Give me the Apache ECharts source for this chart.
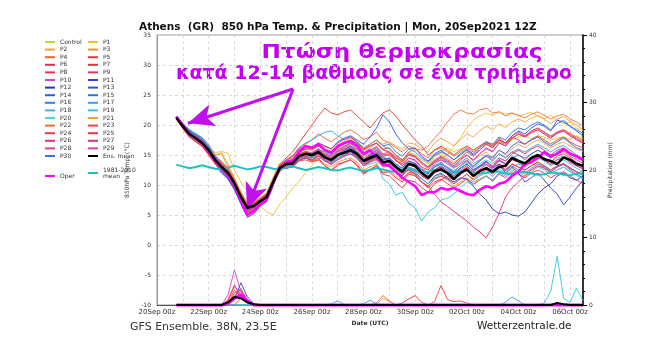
<!DOCTYPE html>
<html><head><meta charset="utf-8">
<script src="https://cdn.jsdelivr.net/npm/echarts@6/dist/echarts.min.js"></script>
<style>html,body{margin:0;padding:0;background:#fff}#c{width:660px;height:359px}</style>
</head><body><div id="c"></div><script>
// time steps: hours after 20Sep 00z (first step 20Sep 18z, 6-hourly)
const FIRST_HOUR = 18, STEP = 6;
const X_TICK_LABELS = ["20Sep 00z","22Sep 00z","24Sep 00z","26Sep 00z","28Sep 00z","30Sep 00z","02Oct 00z","04Oct 00z","06Oct 00z"];
const Y_TICKS_TEMP = [-10,-5,0,5,10,15,20,25,30,35];
const Y_TICKS_PREC = [0,10,20,30,40];

// 850 hPa temperature (°C)
const T_CONTROL=[21.3,19.6,18.6,17.5,16.8,15.5,14.0,13.3,12.2,10.0,8.2,6.5,6.8,7.5,8.5,11.0,13.2, 13.8,14.2,15.5,15.8,15.2, 16.0,15.0,14.5,15.5,16.2,16.8,16.0,15.0,15.8,16.4, 15.2,15.0,14.2,13.6,15.0,14.6,13.8,13.0,14.8,15.5, 16.2,15.5,16.0,16.4,15.8,16.5,17.0,16.8,17.2,16.5, 17.5,18.0,18.3,17.6,18.2,18.0,17.5,17.8,18.0,17.6, 18.2,17.8];
const T_P1=[21.2,19.9,18.8,18.0,17.4,16.3,15.4,15.6,15.3,12.5,10.5,9.0,8.0,6.5,5.5,5.0,6.8, 8.0,9.5,10.6,12.0,13.2, 14.2,15.0,15.8,15.5,16.5,17.0,16.2,15.5,14.8,15.5, 14.6,13.8,13.2,14.0,13.5,12.8,12.0,13.2,13.8,14.5, 15.0,16.5,17.8,19.5,20.8,21.5,22.0,21.6,22.2,21.8, 22.0,21.5,21.8,22.1,21.5,21.0,21.6,20.8,20.2,20.5, 19.5,19.0];
const T_P2=[21.4,20.2,19.0,18.3,17.6,16.5,15.0,15.2,13.0,11.0,8.8,6.8,7.0,7.8,8.6,11.2,13.5, 14.0,14.5,15.8,16.2,16.0, 16.5,15.8,15.2,16.0,16.8,17.5,16.8,15.5,16.2,17.0, 16.0,15.5,14.8,14.0,15.5,15.0,14.2,13.5,14.8,15.2, 14.5,13.8,14.5,15.0,14.2,14.8,15.5,14.6,15.8,15.0, 16.0,16.8,16.2,17.0,17.5,17.0,16.2,16.8,17.2,16.5, 16.0,15.6];
const T_P3=[21.0,19.5,18.2,17.4,16.6,15.2,13.8,12.6,11.5,9.8,7.6,5.8,6.2,7.0,7.8,10.0,12.5, 13.0,13.2,14.0,14.5,14.0, 14.2,13.5,13.0,13.8,14.2,14.5,13.8,12.5,13.0,13.5, 12.2,12.5,11.5,10.8,12.0,11.5,10.5,9.8,11.0,11.5, 10.8,9.8,10.5,11.2,10.5,11.0,11.5,10.8,12.0,11.8, 12.8,12.2,11.8,12.5,13.2,12.8,12.0,12.5,13.0,12.2, 11.8,12.4];
const T_P4=[21.3,20.0,18.9,18.1,17.3,16.0,14.6,14.0,12.8,10.8,8.5,6.6,6.6,7.2,8.2,10.8,13.0, 14.2,14.8,16.2,16.8,17.5, 18.5,17.8,17.2,18.0,18.8,19.2,18.5,17.6,18.0,18.8, 17.5,17.0,16.2,15.5,16.5,16.0,15.2,14.5,15.8,16.2, 15.5,14.8,15.5,16.2,15.5,16.2,17.0,16.5,17.2,16.8, 17.8,18.5,18.0,19.0,19.5,18.8,18.2,18.8,19.2,18.6, 18.0,17.5];
const T_P5=[21.1,19.4,18.0,17.2,16.4,15.0,13.5,12.5,11.4,9.6,7.4,5.6,6.0,7.1,8.0,10.6,13.4, 14.5,15.5,17.0,18.5,20.0, 21.5,22.8,22.0,21.7,22.2,22.5,21.5,20.5,19.5,20.8, 22.0,22.5,21.5,20.0,18.8,17.5,16.5,15.0,15.8,16.5, 15.8,15.0,15.8,16.5,15.8,16.5,17.2,16.5,17.8,17.0, 18.0,17.5,16.8,17.6,18.2,17.5,16.8,17.5,18.0,17.2, 16.6,16.2];
const T_P6=[21.2,19.7,18.4,17.9,17.2,16.2,14.8,13.5,12.4,10.6,8.4,6.4,6.9,7.6,8.4,10.2,12.2, 13.2,13.0,14.2,14.6,14.0, 14.5,13.2,12.5,13.5,13.8,14.2,13.2,11.8,12.5,13.2, 11.8,11.5,10.5,9.5,10.8,10.5,9.6,8.8,10.2,10.8, 11.5,10.8,11.8,12.5,11.8,12.6,13.4,12.8,14.0,13.5, 14.5,14.0,13.2,14.0,14.8,14.2,13.5,14.2,14.6,13.8, 13.2,12.8];
const T_P7=[21.3,20.1,18.7,18.0,17.1,15.6,14.0,12.8,11.8,10.0,7.9,6.0,6.3,7.0,7.7,10.4,12.9, 14.0,14.2,15.0,15.5,15.2, 15.8,14.8,14.2,15.2,15.8,16.2,15.5,14.2,14.8,15.5, 14.2,14.5,13.2,12.5,13.8,13.2,12.0,11.2,12.5,13.0, 12.2,11.2,12.0,12.8,11.5,12.2,13.0,12.2,13.5,13.0, 14.2,13.8,13.0,14.2,15.0,14.5,13.8,14.8,15.2,14.5, 13.8,13.2];
const T_P8=[21.2,19.8,18.3,17.6,16.9,15.7,14.4,13.2,12.3,10.5,8.2,6.3,6.6,7.4,8.2,10.8,13.1, 13.5,13.8,15.2,15.5,15.0, 15.5,14.5,14.0,15.0,15.5,16.0,15.2,13.8,14.2,14.8, 13.5,13.2,12.0,11.0,12.2,11.8,10.5,9.5,10.5,11.0, 10.2,9.5,10.2,11.0,10.2,10.8,11.5,10.6,11.8,11.2, 12.2,11.8,11.2,12.0,12.5,12.0,11.2,11.8,12.2,11.5, 10.8,10.2];
const T_P9=[21.0,19.6,18.6,17.9,17.3,16.1,14.5,13.6,12.6,10.9,8.6,6.7,7.0,7.8,8.5,10.9,13.0, 13.8,14.0,15.0,15.4,15.2, 15.8,15.0,14.6,15.5,16.0,16.5,15.8,14.5,15.2,15.8, 14.8,15.0,14.0,13.5,14.5,14.2,13.0,12.5,13.8,14.2, 13.5,12.8,13.5,14.2,13.2,14.0,14.8,14.0,15.2,14.5, 15.5,15.0,14.2,15.2,15.8,15.2,14.5,15.2,15.6,14.8, 14.2,13.6];
const T_P10=[21.4,20.0,18.5,17.7,16.8,15.4,13.9,12.7,11.6,9.9,7.7,5.4,5.8,6.9,7.6,10.1,12.6, 13.2,13.5,14.8,15.2,15.0, 15.8,15.0,14.5,15.6,16.2,16.8,16.0,14.8,15.6,16.2, 15.0,15.2,14.2,13.2,14.5,14.0,12.8,12.0,13.5,14.2, 13.8,13.0,14.2,15.0,14.0,15.2,16.0,15.5,17.0,16.5, 17.8,18.5,18.0,18.8,19.2,18.5,17.8,18.6,19.0,18.2, 17.5,17.0];
const T_P11=[21.1,19.7,18.4,17.8,16.9,15.9,14.1,12.4,11.2,9.5,7.2,5.0,5.6,6.8,7.5,10.2,12.4, 13.0,13.2,14.5,15.0,14.8, 15.5,14.8,14.0,15.0,15.8,16.5,15.5,14.2,15.0,15.8, 14.5,14.2,13.0,12.2,13.5,13.0,12.0,11.0,12.5,13.2, 12.5,11.8,12.8,13.5,12.5,13.2,14.0,12.8,13.5,12.0, 13.0,12.0,10.5,11.2,12.0,10.8,9.5,8.5,6.7,8.0, 9.5,10.8];
const T_P12=[21.3,20.2,19.2,18.4,17.5,15.8,13.6,12.0,11.0,9.2,6.8,4.6,5.2,6.5,7.2,9.8,12.8, 12.8,13.0,14.2,14.5,14.2, 14.8,14.0,13.5,14.5,15.0,15.5,14.6,13.2,14.0,14.6, 13.2,13.5,12.2,11.5,12.8,12.2,11.0,10.2,11.5,12.0, 11.2,10.5,11.2,11.0,9.8,8.5,7.5,6.0,5.2,5.5, 5.0,4.8,5.5,7.0,8.5,9.5,10.2,11.5,12.0,11.2, 10.8,11.5];
const T_P13=[21.2,20.0,19.0,18.5,17.8,16.4,14.7,13.4,12.4,10.4,8.1,6.1,6.4,7.3,8.1,10.6,13.3, 13.8,14.2,15.5,16.0,16.2, 17.0,16.5,16.0,17.2,17.8,18.2,17.5,16.8,18.0,19.5, 21.7,20.5,18.5,17.0,16.0,16.2,14.8,14.0,15.2,15.8, 15.0,14.2,15.0,15.8,15.0,15.8,16.8,16.2,17.5,17.0, 18.2,19.0,18.5,19.5,20.2,19.8,19.0,20.8,20.5,19.8, 19.0,18.2];
const T_P14=[21.0,19.5,18.7,18.2,17.6,16.0,14.2,12.2,11.0,9.4,7.0,5.2,5.6,6.7,7.4,10.0,12.6, 12.8,13.2,14.5,14.8,14.5, 15.2,14.2,13.8,14.8,15.2,15.6,14.8,13.5,14.2,14.8, 13.8,14.0,13.0,12.2,13.5,13.2,12.5,11.8,13.0,13.5, 13.0,12.2,13.2,14.0,13.0,14.0,15.0,14.5,15.8,15.2, 16.5,17.2,16.8,17.5,18.0,17.2,16.5,17.2,17.8,17.0, 16.2,15.8];
const T_P15=[21.3,20.3,19.1,18.0,17.0,15.6,14.0,12.9,11.9,10.1,7.8,5.9,6.2,7.0,7.9,10.4,12.9, 13.5,13.8,15.0,15.5,15.2, 16.0,15.5,15.0,16.2,17.0,17.5,17.0,16.0,16.8,17.5, 16.5,16.8,15.5,14.8,16.0,15.5,14.5,13.8,15.0,15.5, 15.0,14.2,15.2,16.0,15.2,16.2,17.2,16.8,18.0,17.5, 18.8,19.5,19.2,20.0,20.5,20.0,19.2,20.2,20.8,19.8, 19.2,18.6];
const T_P16=[21.2,19.9,18.6,17.8,17.0,15.9,14.3,13.1,12.1,10.2,7.9,5.8,6.1,6.9,7.8,10.3,12.7, 13.2,13.5,14.6,15.0,14.8, 15.5,14.6,14.0,15.0,15.5,16.0,15.2,14.0,14.6,15.2, 14.2,14.5,13.5,12.8,14.0,13.6,12.6,11.8,13.2,13.8, 12.8,12.0,12.8,13.5,12.5,13.2,14.0,13.0,14.2,13.5, 14.5,15.0,14.5,15.2,15.8,15.2,14.5,15.5,16.0,15.2, 14.5,14.0];
const T_P17=[21.1,19.8,18.9,18.6,17.9,16.8,15.0,13.8,12.6,10.7,8.4,6.4,6.7,7.6,8.4,10.9,13.2, 14.0,14.8,16.2,17.0,17.5, 18.2,18.8,19.0,18.2,17.5,18.0,17.2,16.2,16.8,17.5, 16.5,16.0,15.0,14.2,15.2,14.8,13.8,13.0,14.0,14.5, 13.8,13.0,13.8,14.5,13.6,14.2,15.0,14.2,15.2,14.6, 15.5,16.0,15.5,16.2,16.8,16.2,15.5,16.2,16.6,15.8, 15.0,14.4];
const T_P18=[21.2,20.1,19.3,18.5,17.4,16.2,14.6,13.4,12.2,10.3,8.0,6.0,6.3,7.2,8.0,10.5,13.0, 13.0,13.5,14.8,15.5,15.2, 16.0,15.2,14.8,15.8,16.5,17.0,16.2,15.0,15.5,16.0, 14.8,14.2,12.8,11.8,12.5,12.0,11.0,10.2,11.2,11.8, 11.0,10.2,11.0,11.8,10.8,11.5,12.2,11.4,12.6,12.0, 13.0,13.5,13.0,13.8,14.5,14.0,13.2,13.8,14.2,13.5, 12.8,12.2];
const T_P19=[21.3,19.7,18.3,17.5,16.7,15.3,13.7,12.4,11.5,9.8,7.5,5.6,6.0,7.0,7.8,10.3,12.7, 13.5,13.2,14.5,15.0,14.8, 15.2,14.5,13.8,14.5,15.0,15.2,14.5,13.2,13.5,13.8, 11.0,10.2,8.3,8.8,7.0,6.2,4.0,5.5,6.2,7.5, 7.8,8.5,9.5,10.5,10.0,10.8,11.5,10.8,12.0,11.5, 12.5,12.0,11.5,12.2,13.0,12.5,11.8,12.5,13.0,12.2, 11.6,11.0];
const T_P20=[21.2,19.6,18.4,17.7,16.9,15.6,14.0,12.8,11.9,10.2,7.9,6.0,6.3,7.1,7.9,10.4,12.8, 13.6,13.8,14.6,15.0,14.6, 15.0,14.2,13.6,14.2,14.8,15.2,14.5,13.5,14.0,14.5, 13.8,14.0,13.2,12.6,13.8,13.5,12.5,12.0,13.2,13.6, 13.0,12.4,13.2,13.8,12.8,13.6,14.2,13.6,14.5,14.0, 14.8,14.2,13.8,14.5,15.0,14.5,13.8,14.5,14.8,14.2, 13.6,13.0];
const T_P21=[21.3,20.0,18.8,18.0,17.3,16.2,15.0,15.4,13.4,11.2,8.9,7.0,7.2,7.9,8.7,11.3,13.6, 14.0,14.6,15.8,16.2,16.0, 16.8,16.2,15.6,16.5,17.2,17.8,17.2,16.2,16.8,17.5, 16.8,17.2,16.5,16.0,17.0,16.8,16.0,15.5,17.0,17.8, 17.2,16.5,17.5,18.5,18.0,19.0,19.8,19.2,20.2,19.6, 20.5,21.0,20.5,21.2,21.6,21.0,20.2,21.0,21.4,20.6, 20.0,19.2];
const T_P22=[21.2,19.8,18.6,17.8,17.0,15.9,14.5,13.8,12.7,10.8,8.6,6.8,7.1,7.8,8.6,11.0,13.4, 13.6,14.0,15.0,15.5,15.0, 15.5,14.8,14.2,15.0,15.8,16.2,15.5,14.5,15.2,15.8, 14.8,15.2,14.5,14.0,15.5,16.0,15.8,16.5,17.8,19.0, 20.5,21.8,22.5,22.0,21.8,22.5,22.8,22.0,22.2,21.5, 22.0,21.6,21.2,21.8,22.2,21.6,21.0,21.5,21.8,21.0, 20.5,19.8];
const T_P23=[21.1,19.5,18.1,17.3,16.5,15.1,13.6,12.3,11.3,9.6,7.3,5.5,5.9,6.8,7.6,10.0,12.4, 13.2,13.5,14.5,14.8,14.5, 15.0,14.2,13.5,14.2,14.8,15.2,14.4,13.2,13.8,14.2, 13.0,13.2,12.2,11.6,12.8,12.5,11.5,10.8,12.0,12.5, 11.8,11.0,11.8,12.5,11.5,12.2,13.0,12.2,13.2,12.6, 13.5,13.0,12.5,13.2,13.8,13.2,12.5,13.2,13.6,12.8, 12.2,11.8];
const T_P24=[21.3,19.9,18.7,18.0,17.2,16.0,14.4,13.3,12.3,10.5,8.3,6.4,6.8,7.5,8.3,10.7,13.0, 13.8,14.2,15.5,16.0,15.8, 16.5,15.8,15.2,16.2,17.0,17.5,16.8,15.8,16.5,17.0, 16.0,16.2,15.0,14.2,15.2,14.8,13.8,13.0,14.2,14.8, 14.2,13.5,14.5,15.5,14.8,15.8,16.8,16.2,17.5,17.0, 18.2,18.8,18.2,19.0,19.5,18.8,18.0,18.8,19.2,18.4, 17.8,17.2];
const T_P25=[21.2,19.7,18.4,17.6,16.8,15.6,14.1,12.9,12.0,10.2,8.0,6.1,6.4,7.2,8.0,10.5,12.9, 12.8,13.0,14.0,14.2,13.8, 14.2,13.2,12.5,13.2,13.8,14.2,13.4,12.0,12.6,13.2, 12.0,12.2,11.2,10.5,11.8,11.5,10.5,9.8,11.0,11.5, 11.0,10.2,11.0,11.8,11.0,11.8,12.5,11.8,13.0,12.4, 13.5,13.0,12.5,13.2,13.8,13.2,12.5,13.2,13.5,12.8, 12.2,11.6];
const T_P26=[21.0,19.4,18.0,17.2,16.5,15.2,13.8,12.8,11.8,10.0,7.8,5.9,6.2,7.0,7.8,10.2,12.6, 13.5,13.8,15.0,15.2,14.8, 15.2,14.5,13.8,14.8,15.2,15.6,14.8,13.5,14.0,14.6, 13.5,13.8,12.8,12.0,12.5,11.8,10.5,9.8,8.5,7.2, 6.4,5.6,4.8,4.0,3.0,2.2,1.2,3.0,5.3,8.0, 9.5,10.5,11.5,12.5,13.2,12.8,12.2,13.0,13.5,12.8, 12.2,11.8];
const T_P27=[21.3,19.9,18.5,17.9,17.2,16.1,14.6,13.4,12.3,10.6,8.4,6.5,6.8,7.6,8.4,10.8,13.1, 14.2,14.8,16.0,16.5,16.2, 17.0,16.5,16.0,17.0,17.6,18.0,17.2,16.0,16.5,17.0, 15.8,15.5,14.2,13.2,14.0,13.5,12.2,11.5,12.5,13.0, 12.2,11.5,12.2,13.0,12.2,13.0,13.8,13.2,14.5,14.0, 15.2,15.8,15.2,16.0,16.5,15.8,15.0,15.8,16.2,15.4, 14.8,14.2];
const T_P28=[21.2,19.8,18.6,17.7,16.9,15.7,14.1,12.9,11.9,10.1,7.8,5.7,6.0,6.9,7.7,10.3,12.8, 14.0,14.2,15.2,15.6,15.4, 16.0,15.2,14.8,15.8,16.4,17.0,16.4,15.2,15.8,16.4, 15.2,15.5,14.6,13.8,15.0,14.6,13.5,12.8,14.0,14.6, 14.0,13.2,14.2,15.0,14.2,15.2,16.2,15.6,17.0,16.5, 17.8,18.5,18.0,18.7,19.2,18.5,17.8,18.7,19.0,18.2, 17.6,17.0];
const T_P29=[21.4,20.1,18.9,18.2,17.4,16.2,14.5,13.2,12.1,10.2,7.9,5.8,6.1,7.0,7.8,10.4,12.9, 13.0,13.2,14.2,14.6,14.2, 14.8,14.0,13.4,14.2,14.8,15.2,14.5,13.2,13.8,14.4, 13.2,13.5,12.5,11.8,13.0,12.6,11.6,11.0,12.2,12.8, 12.2,11.5,12.5,13.2,12.2,13.0,13.8,13.0,14.2,13.6, 14.6,14.0,13.4,14.2,14.8,14.2,13.4,14.2,14.6,13.8, 13.2,12.6];
const T_P30=[21.1,19.8,18.8,18.3,17.6,16.3,14.4,12.6,11.4,9.6,7.3,5.2,5.7,6.8,7.6,10.1,12.7, 13.4,13.6,14.8,15.2,15.0, 15.6,14.8,14.2,15.2,15.8,16.2,15.5,14.2,14.8,15.4, 14.2,14.5,13.5,12.8,14.0,13.6,12.5,11.8,13.0,13.5, 12.8,12.0,12.8,13.5,12.5,13.0,13.5,12.5,13.2,12.4, 13.2,12.5,12.0,12.8,13.5,13.0,12.2,13.0,13.4,12.5, 11.8,11.2];
const T_OPER=[21.4,20.0,18.6,17.8,16.9,15.6,14.0,12.8,11.7,9.9,7.4,5.0,5.6,6.8,7.6,10.3,12.8, 13.8,14.0,15.5,16.5,16.2, 16.8,15.8,15.4,16.5,17.0,17.3,16.5,15.2,15.8,14.5, 13.5,13.2,12.2,11.2,10.5,9.8,8.3,8.8,8.8,9.5, 9.2,9.5,9.0,8.5,8.3,9.2,9.8,9.5,10.2,10.5, 11.5,12.2,13.5,13.8,14.5,15.5,14.8,15.2,16.0,15.2, 14.8,14.2];
const T_MEAN=[21.2,19.8,18.5,17.8,17.0,15.8,14.2,13.0,12.0,10.3,8.0,6.2,6.5,7.3,8.0,10.5,12.8, 13.5,13.6,14.8,15.2,15.0, 15.5,14.6,14.2,15.0,15.4,15.8,15.2,14.0,14.5,15.0, 13.8,14.0,13.0,12.2,13.5,13.2,12.0,11.2,12.3,12.6, 12.0,11.0,12.0,12.6,11.5,12.3,12.8,12.2,13.0,13.2, 14.5,14.0,13.6,14.5,15.0,14.3,14.0,13.5,14.6,14.2, 13.5,13.2];
const T_CLIM=[13.4,13.1,12.8,13.0,13.3,13.0,12.7,12.6,12.9,13.2, 12.9,12.6,12.8,13.1,13.0,12.7,12.6,12.9,13.1,12.8, 12.5,12.7,13.0,12.8,12.5,12.4,12.7,12.9,12.6,12.3, 12.5,12.8,12.6,12.3,12.2,12.5,12.7,12.4,12.1,12.2, 12.5,12.4,12.1,12.0,12.3,12.4,12.1,11.9,12.0,12.3, 12.2,11.9,11.8,12.1,12.2,11.9,11.7,11.8,12.1,12.0, 11.7,11.6,11.9,11.9];

// 6-hourly precipitation (mm)
const PR_P10=[0,0,0,0,0,0,0,0, 1.5,5.2,2.0,0.4,0,0,0,0, 0,0,0,0,0,0,0,0, 0,0,0,0,0,0,0,0, 0,0,0,0,0,0,0,0, 0,0,0,0,0,0,0,0, 0,0,0,0,0,0,0,0, 0,0,0,0,0,0,0,0];
const PR_P11=[0,0,0,0,0,0,0,0, 0,0.8,3.3,1.2,0.2,0,0,0, 0,0,0,0,0,0,0,0, 0,0,0,0,0,0,0,0, 0,0,0,0,0,0,0,0, 0,0,0,0,0,0,0,0, 0,0,0,0,0,0,0,0, 0,0,0,0,0,0,0,0];
const PR_P5=[0,0,0,0,0,0,0,0, 0.6,2.8,1.5,0.3,0,0,0,0, 0,0,0,0,0,0,0,0, 0,0,0,0,0,0,0,0, 0,0,0,0,0,0,0,0, 0,0,0,0,0,0,0,0, 0,0,0,0,0,0,0,0, 0,0,0,0,0,0,0,0];
const PR_P6=[0,0,0,0,0,0,0,0, 0,1.8,2.2,0.8,0,0,0,0, 0,0,0,0,0,0,0,0, 0,0,0,0,0,0,0,0, 0,0,0,0,0,0,0,0, 0,0,0,0,0,0,0,0, 0,0,0,0,0,0,0,0, 0,0,0,0,0,0,0,0];
const PR_P24=[0,0,0,0,0,0,0,0, 0.3,2.2,1.2,0.5,0,0,0,0, 0,0,0,0,0,0,0,0, 0,0,0,0,0,0,0,0, 0,0,0,0,0,0,0,0, 0,0,0,0,0,0,0,0, 0,0,0,0,0,0,0,0, 0,0,0,0,0,0,0,0];
const PR_P23=[0,0,0,0,0,0,0,0, 0,1.0,1.6,0.4,0,0,0,0, 0,0,0,0,0,0,0,0, 0,0,0,0,0,0,0,0, 0,0,0,0,0,0,0,0, 0.5,2.9,0.8,0.5,0.6,0.3,0,0, 0,0,0,0,0,0,0,0, 0,0,0,0,0,0,0,0];
const PR_P28=[0,0,0,0,0,0,0,0, 0.8,3.0,1.0,0.3,0,0,0,0, 0,0,0,0,0,0,0,0, 0,0,0,0,0,0,0,0, 0,0,0,0,0,0,0,0, 0,0,0,0,0,0,0,0, 0,0,0,0,0,0,0,0, 0,0,0,0,0,0,0,0];
const PR_P29=[0,0,0,0,0,0,0,0, 0.2,1.4,2.0,0.6,0,0,0,0, 0,0,0,0,0,0,0,0, 0,0,0,0,0,0,0,0, 0,0,0,0,0,0,0,0, 0,0,0,0,0,0,0,0, 0,0,0,0,0,0,0,0, 0,0,0,0,0,0,0,0];
const PR_P4=[0,0,0,0,0,0,0,0, 0,1.2,2.5,0.5,0,0,0,0, 0,0,0,0,0,0,0,0, 0,0,0,0,0,0,0,0.3, 1.4,0.6,0,0,0,0,0,0, 0,0,0,0,0,0,0,0, 0,0,0,0,0,0,0,0, 0,0,0,0,0,0,0,0];
const PR_P7=[0,0,0,0,0,0,0,0, 0,0,1.0,0.3,0,0,0,0, 0,0,0,0,0,0,0,0, 0,0,0,0,0,0,0,0, 0,0,0,0.3,0.9,1.4,0.4,0, 0,0,0,0,0,0,0,0, 0,0,0,0,0,0,0,0, 0,0,0,0,0,0,0,0];
const PR_P19=[0,0,0,0,0,0,0,0, 0,0,0,0,0,0,0,0, 0,0,0,0,0,0,0,0, 0,0,0,0,0,0,0,0, 0,0,0,0,0,0,0,0, 0,0,0,0,0,0,0,0, 0,0,0,0,0,0,0,0, 0,0.3,2.0,7.2,1.0,0.4,2.5,0.6];
const PR_P17=[0,0,0,0,0,0,0,0, 0,0,0,0,0,0,0,0, 0,0,0,0,0,0,0,0, 0.2,0.6,0.1,0,0,0.2,0.7,0.2, 0,0,0,0,0,0,0,0, 0,0,0,0,0,0,0,0, 0,0,0,0.4,1.2,0.6,0,0, 0,0,0,0,0,0,0,0];
const PR_P2=[0,0,0,0,0,0,0,0, 0,0,0,0,0,0,0,0, 0,0,0,0,0,0,0,0, 0,0,0,0,0,0,0,0, 1.0,0.5,0,0,0,0,0,0, 0,0,0,0,0,0,0,0, 0,0,0,0,0,0,0,0, 0,0,0,0,0,0,0,0];
const PR_MEAN=[0,0,0,0,0,0,0,0, 0.4,1.2,1.0,0.4,0.1,0,0,0, 0,0,0,0,0,0,0,0, 0,0,0,0,0,0,0,0, 0,0,0,0,0,0,0,0, 0,0,0,0,0,0,0,0, 0,0,0,0,0,0,0,0, 0,0,0,0.3,0.1,0,0,0];
const PR_OPER=[0,0,0,0,0,0,0,0, 0.3,1.0,1.5,0.6,0,0,0,0, 0,0,0,0,0,0,0,0, 0,0,0,0,0,0,0,0, 0,0,0,0,0,0,0,0, 0,0,0,0,0,0,0,0, 0,0,0,0,0,0,0,0, 0,0,0,0,0,0,0,0];

const MEMBER_NAMES=['Control','P1','P2','P3','P4','P5','P6','P7','P8','P9','P10','P11','P12','P13','P14','P15','P16','P17','P18','P19','P20','P21','P22','P23','P24','P25','P26','P27','P28','P29','P30'];
const MEMBER_TEMPS=[T_CONTROL,T_P1,T_P2,T_P3,T_P4,T_P5,T_P6,T_P7,T_P8,T_P9,T_P10,T_P11,T_P12,T_P13,T_P14,T_P15,T_P16,T_P17,T_P18,T_P19,T_P20,T_P21,T_P22,T_P23,T_P24,T_P25,T_P26,T_P27,T_P28,T_P29,T_P30];
const MEMBER_PRECIP={P10:PR_P10,P11:PR_P11,P5:PR_P5,P6:PR_P6,P24:PR_P24,P23:PR_P23,P28:PR_P28,P29:PR_P29,P4:PR_P4,P7:PR_P7,P19:PR_P19,P17:PR_P17,P2:PR_P2};

// styling
const COLORS={Control:'#c8d820',P1:'#f0c030',P2:'#f0a040',P3:'#f09030',P4:'#f06030',P5:'#e83838',P6:'#e03048',P7:'#e83030',P8:'#e83060',P9:'#e8306a',P10:'#e040c8',P11:'#3040e0',P12:'#2038b0',P13:'#3050e8',P14:'#3060d8',P15:'#3078d0',P16:'#3080e0',P17:'#30a0e8',P18:'#40b0e8',P19:'#30c8e0',P20:'#40d8d0',P21:'#f0a030',P22:'#f07038',P23:'#f04040',P24:'#e84048',P25:'#e83848',P26:'#e83060',P27:'#e03070',P28:'#e04080',P29:'#d840b8',P30:'#4070e0'};
const FONT='DejaVu Sans';
const ARROW_COLOR='#c010f0';

const hours=T_MEAN.map((_,i)=>FIRST_HOUR+STEP*i);
const pts=a=>a.map((v,i)=>[hours[i],v]);

const series=[];
MEMBER_NAMES.forEach((n,k)=>{
  series.push({name:n,type:'line',yAxisIndex:0,data:pts(MEMBER_TEMPS[k]),symbol:'none',silent:true,
    lineStyle:{width:1,color:COLORS[n],opacity:0.9},itemStyle:{color:COLORS[n]},z:2});
});
MEMBER_NAMES.forEach(n=>{
  if(MEMBER_PRECIP[n]) series.push({name:n,type:'line',yAxisIndex:1,data:pts(MEMBER_PRECIP[n]),symbol:'none',silent:true,clip:false,
    lineStyle:{width:1,color:COLORS[n],opacity:0.9},itemStyle:{color:COLORS[n]},z:2});
});
series.push({name:'1981-2010 mean',type:'line',yAxisIndex:0,data:pts(T_CLIM),symbol:'none',silent:true,
  lineStyle:{width:2,color:'#20c0c0'},itemStyle:{color:'#20c0c0'},z:3});
series.push({name:'Oper',type:'line',yAxisIndex:0,data:pts(T_OPER),symbol:'none',silent:true,
  lineStyle:{width:2.5,color:'#ff00ff'},itemStyle:{color:'#ff00ff'},z:4});
series.push({name:'Oper',type:'line',yAxisIndex:1,data:pts(PR_OPER),symbol:'none',silent:true,clip:false,
  lineStyle:{width:3,color:'#ff00ff'},itemStyle:{color:'#ff00ff'},z:4});
series.push({name:'Ens. mean',type:'line',yAxisIndex:1,data:pts(PR_MEAN),symbol:'none',silent:true,clip:false,
  lineStyle:{width:2,color:'#000'},itemStyle:{color:'#000'},z:5});
series.push({name:'Ens. mean',type:'line',yAxisIndex:0,data:pts(T_MEAN),symbol:'none',silent:true,
  lineStyle:{width:2.5,color:'#000'},itemStyle:{color:'#000'},z:5,
  markLine:{silent:true,symbol:['none','arrow'],symbolSize:[17,26],animation:false,
    lineStyle:{color:ARROW_COLOR,width:3,type:'solid'},label:{show:false},
    data:[[{coord:[126.5,26.0]},{coord:[28.8,20.3]}],[{coord:[126.5,26.0]},{coord:[83.7,6.0]}]]}});

const legendBase={orient:'vertical',itemWidth:10,itemHeight:2,itemGap:1.6,icon:'rect',padding:0,selectedMode:false,
  textStyle:{fontSize:6,color:'#333',fontFamily:FONT,lineHeight:6,padding:0}};
const colA=MEMBER_NAMES.filter((_,i)=>i%2===0);
const colB=MEMBER_NAMES.filter((_,i)=>i%2===1).concat(['Ens. mean']);

const option={
  animation:false,
  backgroundColor:'#fff',
  title:{text:'Athens  (GR)  850 hPa Temp. & Precipitation | Mon, 20Sep2021 12Z',left:139,top:22,padding:0,
    textStyle:{fontSize:10.5,fontWeight:'bold',fontFamily:FONT,color:'#111'}},
  legend:[
    Object.assign({},legendBase,{left:45,top:39,data:colA}),
    Object.assign({},legendBase,{left:88,top:39,data:colB}),
    Object.assign({},legendBase,{left:88,top:167,data:['1981-2010 mean'],formatter:()=> '1981-2010\nmean'}),
    Object.assign({},legendBase,{left:45,top:173,data:['Oper']})
  ],
  grid:{left:157,right:77,top:35,bottom:54,show:true,borderColor:'#999',borderWidth:1},
  xAxis:{type:'value',min:0,max:396,interval:24,
    name:'Date (UTC)',nameLocation:'middle',nameGap:14,nameTextStyle:{fontSize:6,fontWeight:'bold',color:'#333',fontFamily:FONT},
    axisLine:{show:true,onZero:false,lineStyle:{color:'#555'}},axisTick:{show:false},
    axisLabel:{fontSize:7,color:'#333',fontFamily:FONT,margin:4,formatter:v=> v%48===0 ? (X_TICK_LABELS[v/48]||'') : ''},
    splitLine:{show:true,lineStyle:{color:'#d8d8d8',type:[3,3]}}},
  yAxis:[
    {type:'value',min:Y_TICKS_TEMP[0],max:Y_TICKS_TEMP[Y_TICKS_TEMP.length-1],interval:5,position:'left',
      name:'850hPa Temp. (°C)',nameLocation:'middle',nameGap:20,nameRotate:90,
      nameTextStyle:{fontSize:6,color:'#333',fontFamily:FONT},
      axisLine:{show:true,onZero:false,lineStyle:{color:'#999'}},axisTick:{show:false},
      axisLabel:{fontSize:6,color:'#333',fontFamily:FONT,margin:6},
      splitLine:{show:true,lineStyle:{color:'#d8d8d8',type:[3,3]}}},
    {type:'value',min:Y_TICKS_PREC[0],max:Y_TICKS_PREC[Y_TICKS_PREC.length-1],interval:10,position:'right',
      name:'Precipitation (mm)',nameLocation:'middle',nameGap:19,nameRotate:90,
      nameTextStyle:{fontSize:6,color:'#333',fontFamily:FONT},
      axisLine:{show:true,onZero:false,lineStyle:{color:'#000',width:1.5}},
      axisTick:{show:true,length:4,lineStyle:{color:'#000'}},
      minorTick:{show:true,splitNumber:5,length:2,lineStyle:{color:'#000'}},
      axisLabel:{fontSize:6,color:'#333',fontFamily:FONT,margin:6},
      splitLine:{show:false}}
  ],
  graphic:[
    {type:'text',x:402,y:53,scaleX:1.22,silent:true,style:{text:'Πτώση θερμοκρασίας',font:'bold 19px "DejaVu Sans"',fill:'#c400f4',align:'center',verticalAlign:'middle',textAlign:'center',textVerticalAlign:'middle'}},
    {type:'text',x:374,y:74,silent:true,style:{text:'κατά 12-14 βαθμούς σε ένα τριήμερο',font:'bold 19px "DejaVu Sans"',fill:'#c400f4',align:'center',verticalAlign:'middle',textAlign:'center',textVerticalAlign:'middle'}},
    {type:'text',x:130,y:327,silent:true,style:{text:'GFS Ensemble. 38N, 23.5E',font:'11px "DejaVu Sans"',fill:'#333',verticalAlign:'middle',textVerticalAlign:'middle'}},
    {type:'text',x:477,y:326,silent:true,style:{text:'Wetterzentrale.de',font:'10.5px "DejaVu Sans"',fill:'#222',verticalAlign:'middle',textVerticalAlign:'middle'}}
  ],
  series:series
};
const chart=echarts.init(document.getElementById('c'),null,{renderer:'canvas'});
chart.setOption(option);
</script></body></html>
